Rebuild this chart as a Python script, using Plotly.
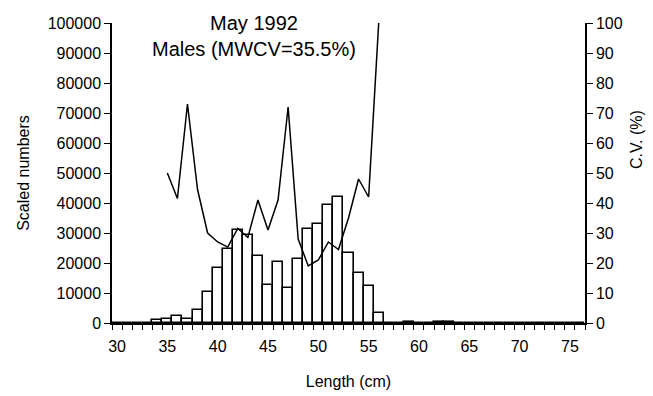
import plotly.graph_objects as go

# Length classes (cm) and scaled numbers at length
length_cm = list(range(30, 77))
scaled_numbers = [
    0, 0, 0, 0, 1000, 1500, 2500, 1500, 4500, 10500,       # 30-39
    18500, 24800, 31000, 29500, 22300, 12700, 20300, 11700, 21500, 31300,  # 40-49
    33000, 39500, 42000, 23500, 16800, 12300, 3200, 0, 0, 400,  # 50-59
    0, 0, 250, 250, 0, 0, 0, 0, 0, 0,                       # 60-69
    0, 0, 0, 0, 0, 0, 0,                                    # 70-76
]

# Coefficient of variation (%) by length class
cv_length = list(range(35, 57))
cv_percent = [50, 41.5, 73, 44.5, 30, 27, 25.3, 31.5, 28.5, 41,
              31, 41, 72, 28, 19, 21, 27, 24.5, 35, 48, 42, 100]

x_ticks = [30, 35, 40, 45, 50, 55, 60, 65, 70, 75]

FONT = "Liberation Sans, Arial, sans-serif"

fig = go.Figure()
fig.add_trace(go.Bar(
    x=length_cm, y=scaled_numbers, width=1,
    marker=dict(color="white", line=dict(color="black", width=1.6)),
    showlegend=False,
))
fig.add_trace(go.Scatter(
    x=cv_length, y=cv_percent, yaxis="y2", mode="lines",
    line=dict(color="black", width=1.5), showlegend=False,
))

fig.update_layout(
    width=653, height=396, autosize=False,
    margin=dict(l=112, r=68, t=23, b=73, pad=0),
    paper_bgcolor="white", plot_bgcolor="white",
    font=dict(family=FONT, size=16, color="black"),
    bargap=0,
    xaxis=dict(
        range=[29.5, 76.5], tickmode="array", tickvals=x_ticks,
        ticks="", ticklabelstandoff=8, showgrid=False, zeroline=False,
        showline=True, linecolor="black", linewidth=1.5, automargin=False,
        tickfont=dict(size=16),
        minor=dict(tickmode="linear", tick0=29.5, dtick=1, ticks="outside",
                   ticklen=5, tickwidth=1.2, tickcolor="black", showgrid=False),
        title=dict(text="Length (cm)", font=dict(size=16), standoff=22),
    ),
    yaxis=dict(
        range=[0, 100000], tick0=0, dtick=10000, tickformat="d",
        ticks="outside", ticklen=6, tickwidth=1.2, tickcolor="black",
        showgrid=False, zeroline=False, automargin=False,
        showline=True, linecolor="black", linewidth=1.5,
        tickfont=dict(size=16),
        title=dict(text="Scaled numbers", font=dict(size=16), standoff=14),
    ),
    yaxis2=dict(
        range=[0, 100], tick0=0, dtick=10, overlaying="y", side="right",
        ticks="outside", ticklen=6, tickwidth=1.2, tickcolor="black",
        showgrid=False, zeroline=False, automargin=False,
        showline=True, linecolor="black", linewidth=1.5,
        tickfont=dict(size=16),
    ),
    annotations=[
        dict(text="May 1992<br>Males (MWCV=35.5%)", xref="paper", yref="paper",
             x=0.300, y=1.045, xanchor="center", yanchor="top", showarrow=False,
             font=dict(size=20)),
        dict(text="C.V. (%)", xref="paper", yref="paper", x=1.108, y=0.61,
             xanchor="center", yanchor="middle", textangle=-90, showarrow=False,
             font=dict(size=16)),
    ],
)

fig.write_html("out.html")
